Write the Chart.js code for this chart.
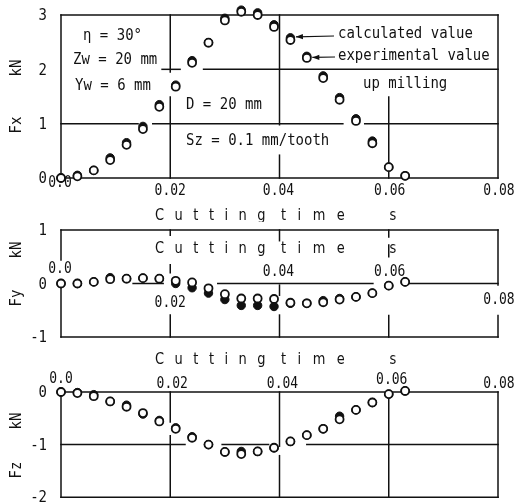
<!DOCTYPE html>
<html>
<head>
<meta charset="utf-8">
<script src="https://cdn.jsdelivr.net/npm/chart.js@4/dist/chart.umd.min.js"></script>
<style>
  html, body { margin: 0; padding: 0; background: #fff; }
  #wrap { position: relative; width: 523px; height: 503px; overflow: hidden; background: #fff; }
  #wrap canvas { position: absolute; left: 0; }
</style>
</head>
<body>
<div id="wrap">
  <canvas id="cFx" width="523" height="222" style="top:0px"></canvas>
  <canvas id="cFy" width="523" height="133" style="top:222px"></canvas>
  <canvas id="cFz" width="523" height="163" style="top:340px"></canvas>
</div>
<script>
// Cutting time (s) of each sample
const time = [0.000, 0.003, 0.006, 0.009, 0.012, 0.015, 0.018, 0.021, 0.024, 0.027, 0.030,
              0.033, 0.036, 0.039, 0.042, 0.045, 0.048, 0.051, 0.054, 0.057, 0.060, 0.063];

// Cutting force components (kN)
const fxExperimental = [0.00, 0.03, 0.14, 0.33, 0.61, 0.90, 1.31, 1.68, 2.12, 2.49, 2.90,
                        3.06, 3.00, 2.78, 2.54, 2.21, 1.84, 1.44, 1.05, 0.64, 0.20, 0.04];
const fxCalculated   = [0.00, 0.05, 0.14, 0.37, 0.65, 0.95, 1.35, 1.71, 2.16, 2.49, 2.94,
                        3.09, 3.04, 2.82, 2.58, 2.24, 1.88, 1.48, 1.09, 0.68, 0.20, 0.04];

const fyExperimental = [0.00, 0.00, 0.03, 0.08, 0.09, 0.10, 0.09, 0.05, 0.02, -0.09, -0.20,
                        -0.28, -0.28, -0.29, -0.36, -0.37, -0.35, -0.30, -0.25, -0.18, -0.04, 0.03];
const fyCalculated   = [0.00, 0.00, 0.03, 0.11, 0.09, 0.10, 0.09, 0.00, -0.08, -0.18, -0.30,
                        -0.41, -0.41, -0.43, -0.37, -0.37, -0.32, -0.28, -0.25, -0.18, -0.04, 0.03];

const fzExperimental = [0.00, -0.02, -0.08, -0.18, -0.28, -0.40, -0.56, -0.70, -0.87, -1.00, -1.14,
                        -1.18, -1.13, -1.06, -0.94, -0.82, -0.70, -0.52, -0.34, -0.20, -0.04, 0.02];
const fzCalculated   = [0.00, -0.01, -0.05, -0.18, -0.25, -0.42, -0.54, -0.68, -0.85, -1.00, -1.14,
                        -1.13, -1.13, -1.06, -0.94, -0.82, -0.70, -0.46, -0.34, -0.20, -0.04, 0.02];

// Axis ticks
const timeTicks      = [0, 0.02, 0.04, 0.06, 0.08];
const timeTickLabels = ['0.0', '0.02', '0.04', '0.06', '0.08'];
const fxTicks = [0, 1, 2, 3];
const fyTicks = [-1, 0, 1];
const fzTicks = [-2, -1, 0];

const INK = '#111111';
const MONO = '"DejaVu Sans Mono", "Liberation Mono", monospace';
const SANS = '"DejaVu Sans", "Liberation Sans", sans-serif';

function toPoints(xs, ys) { return xs.map((t, i) => ({ x: t, y: ys[i] })); }

// text with a slight vertical stretch, like the narrow plotter lettering
function drawText(ctx, s, x, y, o = {}) {
  ctx.save();
  ctx.fillStyle = INK;
  ctx.font = (o.size || 14) + 'px ' + (o.family || MONO);
  ctx.textAlign = o.align || 'left';
  ctx.textBaseline = 'middle';
  if (o.spacing) ctx.letterSpacing = o.spacing + 'px';
  ctx.translate(x, y);
  if (o.rotate) ctx.rotate(o.rotate);
  ctx.scale(1, o.stretch || 1.18);
  ctx.fillText(s, 0, 0);
  ctx.restore();
}

function drawArrow(ctx, x1, y1, x2, y2) {
  ctx.save();
  ctx.strokeStyle = INK; ctx.fillStyle = INK; ctx.lineWidth = 1.2;
  ctx.beginPath(); ctx.moveTo(x1, y1); ctx.lineTo(x2, y2); ctx.stroke();
  const a = Math.atan2(y2 - y1, x2 - x1), L = 7, W = 2.6;
  ctx.beginPath();
  ctx.moveTo(x2, y2);
  ctx.lineTo(x2 - L * Math.cos(a) + W * Math.sin(a), y2 - L * Math.sin(a) - W * Math.cos(a));
  ctx.lineTo(x2 - L * Math.cos(a) - W * Math.sin(a), y2 - L * Math.sin(a) + W * Math.cos(a));
  ctx.closePath(); ctx.fill();
  ctx.restore();
}

// one force panel: frame and broken grid lines (in data units), tick labels, titles
function panelPlugin(p) {
  return {
    id: 'panel' + p.name,
    beforeDatasetsDraw(chart) {
      const { ctx, scales: { x, y } } = chart;
      ctx.save();
      ctx.strokeStyle = INK; ctx.lineWidth = 1.5; ctx.lineCap = 'square';
      for (const [x1, y1, x2, y2] of p.lines) {
        ctx.beginPath();
        ctx.moveTo(x.getPixelForValue(x1), y.getPixelForValue(y1));
        ctx.lineTo(x.getPixelForValue(x2), y.getPixelForValue(y2));
        ctx.stroke();
      }
      ctx.restore();
    },
    afterDatasetsDraw(chart) {
      const { ctx, scales: { x, y } } = chart;
      const top = p.top;
      // value ticks
      p.yTicks.forEach(v => {
        drawText(ctx, String(v), 47, y.getPixelForValue(v) + 1, { align: 'right', size: 14 });
      });
      // time ticks
      timeTicks.forEach((t, i) => {
        drawText(ctx, timeTickLabels[i], x.getPixelForValue(t) + p.xLabelDx[i], p.xLabelY[i] - top,
                 { align: 'center', size: 13, stretch: 1.25 });
      });
      // axis title "Cutting time s"
      const ty = p.titleY - top;
      drawText(ctx, 'Cutting', 155, ty, { family: SANS, size: 13, spacing: 10.5, stretch: 1.2 });
      drawText(ctx, 'time', 281, ty, { family: SANS, size: 13, spacing: 11.5, stretch: 1.2 });
      drawText(ctx, 's', 393, ty, { family: SANS, size: 13, align: 'center', stretch: 1.2 });
      // vertical unit and component names
      drawText(ctx, 'kN', 17, p.unitY - top, { align: 'center', rotate: -Math.PI / 2, size: 14, stretch: 1.1 });
      drawText(ctx, p.name, 17, p.nameY - top, { align: 'center', rotate: -Math.PI / 2, size: 14, stretch: 1.1 });
      if (p.extra) p.extra(chart);
    }
  };
}

function makeChart(id, p, exp, calc) {
  const c = document.getElementById(id);
  return new Chart(c, {
    type: 'scatter',
    data: {
      datasets: [
        { label: 'experimental value', data: toPoints(time, exp), order: 0, clip: false,
          pointRadius: 4, pointBorderWidth: 1.8, pointBackgroundColor: '#fff', pointBorderColor: INK },
        { label: 'calculated value', data: toPoints(time, calc), order: 1, clip: false,
          pointRadius: 4.2, pointBorderWidth: 1, pointBackgroundColor: INK, pointBorderColor: INK }
      ]
    },
    options: {
      responsive: false, animation: false, devicePixelRatio: 1,
      events: [],
      layout: { padding: { left: 61, right: 25, top: p.padTop, bottom: p.padBottom } },
      scales: {
        x: { type: 'linear', min: 0, max: 0.08, display: false },
        y: { type: 'linear', min: p.yMin, max: p.yMax, display: false }
      },
      plugins: { legend: { display: false }, tooltip: { enabled: false } }
    },
    plugins: [panelPlugin(p)]
  });
}

// Fx panel
const fxPanel = {
  name: 'Fx', top: 0, padTop: 15, padBottom: 44, yMin: 0, yMax: 3, yTicks: fxTicks,
  xLabelDx: [-1, 0, -1, 1, 1], xLabelY: [183, 191, 191, 191, 191],
  titleY: 216, unitY: 68, nameY: 125,
  lines: [
    [0, 0, 0.08, 0], [0, 3, 0.08, 3], [0, 0, 0, 3], [0.08, 0, 0.08, 3],
    [0, 1, 0.0141, 1], [0.0168, 1, 0.0516, 1], [0.0556, 1, 0.08, 1],
    [0.0185, 2, 0.0218, 2], [0.0261, 2, 0.08, 2],
    [0.02, 0, 0.02, 1.49], [0.02, 1.95, 0.02, 3],
    [0.04, 0, 0.04, 0.42], [0.04, 0.98, 0.04, 3],
    [0.06, 0, 0.06, 1.49]
  ],
  extra(chart) {
    const { ctx, scales: { x, y } } = chart;
    drawText(ctx, 'η = 30°', 83, 36);
    drawText(ctx, 'Zw = 20 mm', 73, 60);
    drawText(ctx, 'Yw = 6 mm', 75, 86);
    drawText(ctx, 'D = 20 mm', 186, 105);
    drawText(ctx, 'Sz = 0.1 mm/tooth', 186, 141);
    drawText(ctx, 'calculated value', 338, 34);
    drawText(ctx, 'experimental value', 338, 56);
    drawText(ctx, 'up milling', 363, 84);
    // arrows to the labelled samples
    const ic = time.indexOf(0.042), ie = time.indexOf(0.045);
    const cx = x.getPixelForValue(time[ic]), cy = y.getPixelForValue(fxCalculated[ic]);
    const ex = x.getPixelForValue(time[ie]), ey = y.getPixelForValue(fxExperimental[ie]);
    drawArrow(ctx, 334, 36, cx + 5.5, cy - 1);
    drawArrow(ctx, 335, 57, ex + 5.5, ey - 0.5);
  }
};

// Fy panel
const fyPanel = {
  name: 'Fy', top: 222, padTop: 8, padBottom: 18, yMin: -1, yMax: 1, yTicks: fyTicks,
  xLabelDx: [-1, 0, -1, 1, 1], xLabelY: [269, 303, 272, 272, 300],
  titleY: 249, unitY: 250, nameY: 298,
  lines: [
    [0, 1, 0.08, 1], [0, -1, 0.08, -1],
    [0, 0.44, 0, 1], [0, -1, 0, 0],
    [0.08, -0.03, 0.08, 1], [0.08, -1, 0.08, -0.6],
    [0.0132, 0, 0.0187, 0], [0.0287, 0, 0.0571, 0], [0.0635, 0, 0.08, 0],
    [0.02, 0.9, 0.02, 1], [0.02, 0.2, 0.02, 0.35], [0.02, -1, 0.02, -0.59],
    [0.04, 0.8, 0.04, 1], [0.04, -0.22, 0.04, -0.03], [0.04, -1, 0.04, -0.59],
    [0.06, 0.87, 0.06, 1], [0.06, 0.5, 0.06, 0.72], [0.06, -1, 0.06, -0.6]
  ]
};

// Fz panel
const fzPanel = {
  name: 'Fz', top: 340, padTop: 52, padBottom: 2, yMin: -2, yMax: 0, yTicks: fzTicks,
  xLabelDx: [0, 2, 3, 3, 1], xLabelY: [379, 384, 384, 380, 384],
  titleY: 360, unitY: 421, nameY: 470,
  lines: [
    [0, 0, 0.08, 0], [0, -2, 0.08, -2], [0, -2, 0, 0], [0.08, -2, 0.08, 0],
    [0, -1, 0.0227, -1], [0.0295, -1, 0.038, -1], [0.045, -1, 0.08, -1],
    [0.02, -0.57, 0.02, 0], [0.02, -2, 0.02, -0.83],
    [0.04, -1.03, 0.04, 0], [0.04, -2, 0.04, -1.21],
    [0.06, -2, 0.06, 0]
  ]
};

makeChart('cFx', fxPanel, fxExperimental, fxCalculated);
makeChart('cFy', fyPanel, fyExperimental, fyCalculated);
makeChart('cFz', fzPanel, fzExperimental, fzCalculated);
</script>
</body>
</html>
